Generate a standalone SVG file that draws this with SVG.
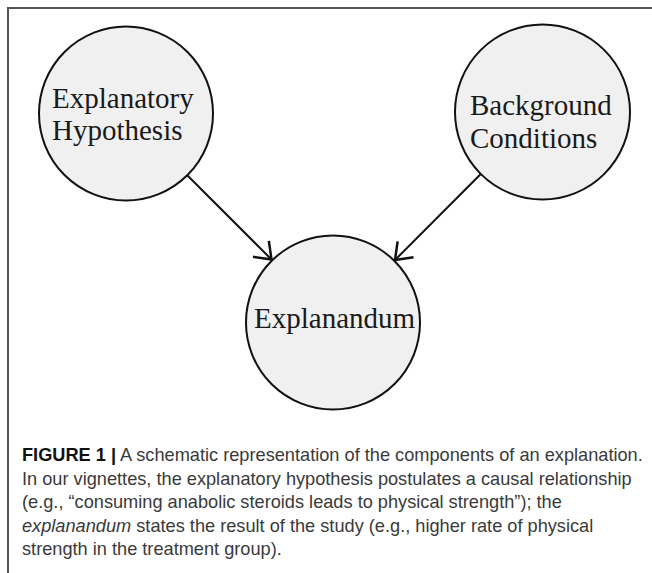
<svg xmlns="http://www.w3.org/2000/svg" width="652" height="573" viewBox="0 0 652 573">
<style>
.node circle{fill:#f0f0f0;stroke:#111;stroke-width:2}
.node text{font-family:"Liberation Serif","Times New Roman",serif;font-size:29px;fill:#1a1a1a}
.edge{stroke:#111;stroke-width:2;fill:none}
.cap{font-family:"Liberation Sans",Arial,sans-serif;font-size:18.2px;fill:#3a3a3a}
.frame{stroke:#555;stroke-width:2;fill:none}
</style>
<defs>
<marker id="arr" markerUnits="userSpaceOnUse" markerWidth="30" markerHeight="30" refX="0" refY="0" viewBox="-16 -12 20 24" orient="auto">
<path d="M-12,-9 L0,0 L-12,9" fill="none" stroke="#111" stroke-width="2"/>
</marker>
</defs>
<rect width="652" height="573" fill="#fff"/>
<path class="frame" d="M8,573 V8 H652"/>
<g id="connectors">
<line class="edge" x1="187" y1="175" x2="271.5" y2="259.5" marker-end="url(#arr)"/>
<line class="edge" x1="480.8" y1="174" x2="395" y2="260" marker-end="url(#arr)"/>
</g>
<g id="hypothesis" class="node">
<circle cx="126" cy="113.5" r="87"/>
<text x="52" y="108">Explanatory</text>
<text x="52" y="140">Hypothesis</text>
</g>
<g id="background" class="node">
<circle cx="542.5" cy="112" r="87.5"/>
<text x="470" y="115">Background</text>
<text x="470" y="148">Conditions</text>
</g>
<g id="explanandum" class="node">
<circle cx="333" cy="322.5" r="87"/>
<text x="254" y="327.5">Explanandum</text>
</g>
<g id="caption">
<text class="cap" x="22" y="461"><tspan font-weight="bold" fill="#111">FIGURE 1 |</tspan> A schematic representation of the components of an explanation.</text>
<text class="cap" x="22" y="484.5">In our vignettes, the explanatory hypothesis postulates a causal relationship</text>
<text class="cap" x="22" y="508">(e.g., “consuming anabolic steroids leads to physical strength”); the</text>
<text class="cap" x="22" y="531.5"><tspan font-style="italic">explanandum</tspan> states the result of the study (e.g., higher rate of physical</text>
<text class="cap" x="22" y="555">strength in the treatment group).</text>
</g>
</svg>
